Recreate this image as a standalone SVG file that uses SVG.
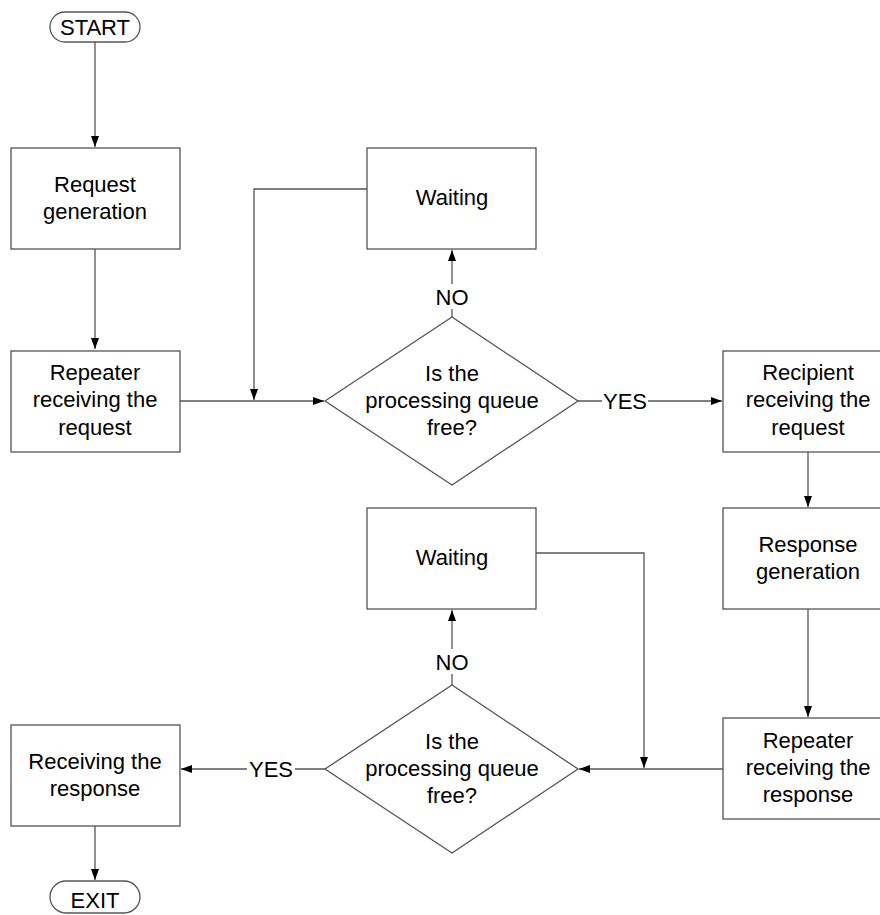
<svg xmlns="http://www.w3.org/2000/svg" width="880" height="915" viewBox="0 0 880 915">
<style>
.box{fill:#fff;stroke:#555;stroke-width:1.3}
.ln{fill:none;stroke:#555;stroke-width:1.3}
text{font-family:"Liberation Sans",Arial,sans-serif;font-size:22px;fill:#000;text-anchor:middle}
</style>
<defs>
<marker id="ar" viewBox="0 0 11 8" refX="11" refY="4" markerWidth="11" markerHeight="8" markerUnits="userSpaceOnUse" orient="auto">
<path d="M0,0L11,4L0,8z" fill="#000"/>
</marker>
</defs>
<rect width="880" height="915" fill="#fff"/>
<g id="connectors">
<path class="ln" d="M95,42V147" marker-end="url(#ar)"/>
<path class="ln" d="M95,249V349" marker-end="url(#ar)"/>
<path class="ln" d="M180,401H324" marker-end="url(#ar)"/>
<path class="ln" d="M367,189H254V400" marker-end="url(#ar)"/>
<path class="ln" d="M452,317V250" marker-end="url(#ar)"/>
<path class="ln" d="M578,401H722" marker-end="url(#ar)"/>
<path class="ln" d="M808,452V507" marker-end="url(#ar)"/>
<path class="ln" d="M808,609V717" marker-end="url(#ar)"/>
<path class="ln" d="M723,769H579" marker-end="url(#ar)"/>
<path class="ln" d="M536,553H644V768" marker-end="url(#ar)"/>
<path class="ln" d="M452,685V610" marker-end="url(#ar)"/>
<path class="ln" d="M325,769H181" marker-end="url(#ar)"/>
<path class="ln" d="M95,826V880" marker-end="url(#ar)"/>
<rect x="431" y="284" width="42" height="25" fill="#fff"/>
<text x="452" y="305">NO</text>
<rect x="431" y="649" width="42" height="25" fill="#fff"/>
<text x="452" y="670">NO</text>
<rect x="602" y="388" width="46" height="25" fill="#fff"/>
<text x="625" y="409">YES</text>
<rect x="247" y="756" width="48" height="25" fill="#fff"/>
<text x="271" y="777">YES</text>
</g>
<g id="start">
<rect class="box" x="50" y="12" width="90" height="30" rx="15"/>
<text x="95" y="35">START</text>
</g>
<g id="request-generation">
<rect class="box" x="11" y="148" width="169" height="101"/>
<text x="95" y="192">Request</text>
<text x="95" y="219">generation</text>
</g>
<g id="repeater-request">
<rect class="box" x="11" y="351" width="169" height="101"/>
<text x="95" y="380">Repeater</text>
<text x="95" y="407">receiving the</text>
<text x="95" y="435">request</text>
</g>
<g id="waiting-1">
<rect class="box" x="367" y="148" width="169" height="101"/>
<text x="452" y="205">Waiting</text>
</g>
<g id="decision-1">
<path class="box" d="M325,401L452,317L578,401L452,485z"/>
<text x="452" y="381">Is the</text>
<text x="452" y="408">processing queue</text>
<text x="452" y="435">free?</text>
</g>
<g id="recipient-request">
<rect class="box" x="723" y="351" width="170" height="101"/>
<text x="808" y="380">Recipient</text>
<text x="808" y="407">receiving the</text>
<text x="808" y="435">request</text>
</g>
<g id="response-generation">
<rect class="box" x="723" y="508" width="170" height="101"/>
<text x="808" y="552">Response</text>
<text x="808" y="579">generation</text>
</g>
<g id="repeater-response">
<rect class="box" x="723" y="718" width="170" height="101"/>
<text x="808" y="748">Repeater</text>
<text x="808" y="775">receiving the</text>
<text x="808" y="802">response</text>
</g>
<g id="waiting-2">
<rect class="box" x="367" y="508" width="169" height="101"/>
<text x="452" y="565">Waiting</text>
</g>
<g id="decision-2">
<path class="box" d="M325,769L452,685L578,769L452,853z"/>
<text x="452" y="749">Is the</text>
<text x="452" y="776">processing queue</text>
<text x="452" y="803">free?</text>
</g>
<g id="receiving-response">
<rect class="box" x="11" y="725" width="169" height="101"/>
<text x="95" y="769">Receiving the</text>
<text x="95" y="796">response</text>
</g>
<g id="exit">
<rect class="box" x="50" y="881" width="90" height="32" rx="16"/>
<text x="95" y="908">EXIT</text>
</g>
</svg>
